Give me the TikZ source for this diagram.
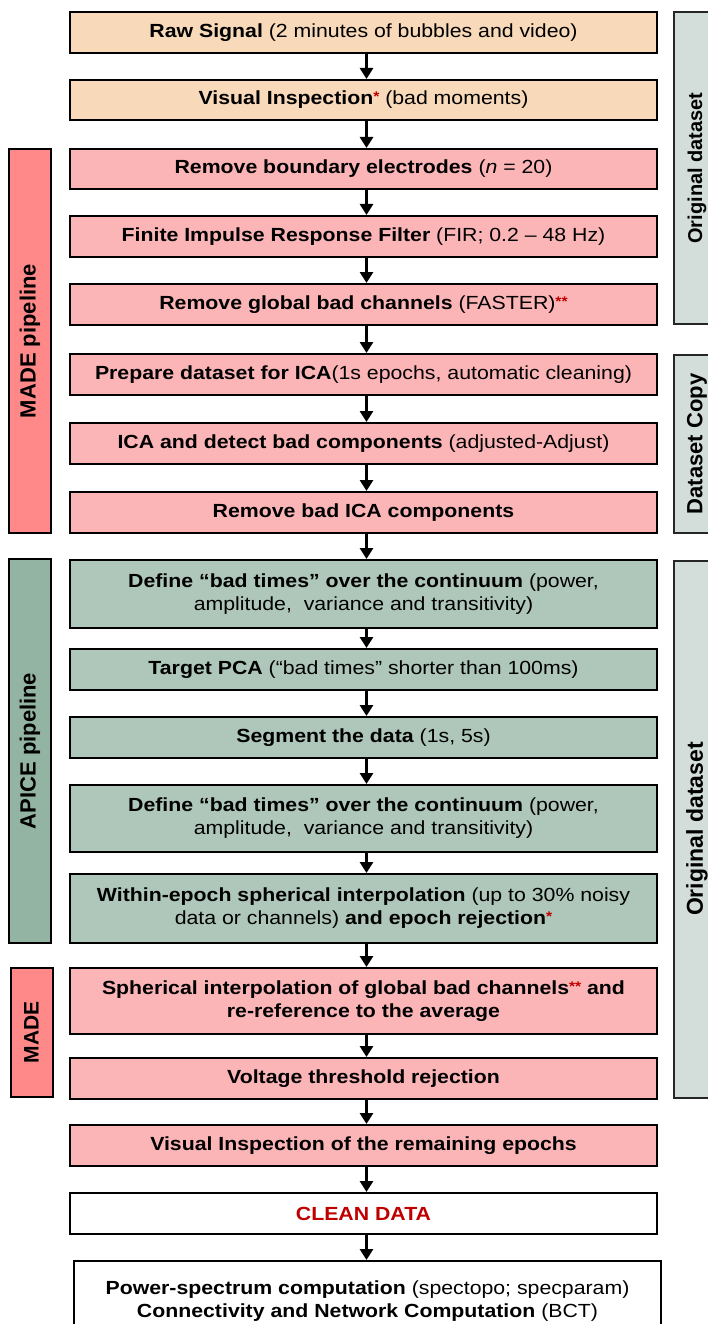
\documentclass[tikz,border=0pt]{standalone}
\usepackage{fontspec}
\setmainfont{Liberation Sans}
\newfontfamily\boxfont[FakeStretch=1.12]{Liberation Sans}
\usetikzlibrary{arrows.meta}

\definecolor{peach}{RGB}{248,217,185}
\definecolor{pinkbox}{RGB}{251,181,183}
\definecolor{madebar}{RGB}{255,137,137}
\definecolor{greenbox}{RGB}{174,199,186}
\definecolor{apicebar}{RGB}{147,180,162}
\definecolor{copybar}{RGB}{211,221,218}
\definecolor{starred}{RGB}{192,0,0}

\newcommand{\redstar}[1]{\raisebox{3pt}{\textcolor{starred}{\fontsize{14}{14}\selectfont\bfseries #1}}}

\begin{document}
\begin{tikzpicture}[x=1pt,y=-1pt,
  stage/.style={draw=black, line width=2pt, minimum width=587pt, inner sep=0pt,
    align=center, text=black, font=\boxfont\fontsize{19}{23}\selectfont},
  sidebar/.style={draw=black, line width=2pt, rotate=90, inner sep=0pt,
    minimum height=42pt, font=\fontsize{22}{22}\selectfont\bfseries},
  copybox/.style={draw=black!85, line width=2pt, rotate=90, inner sep=0pt,
    minimum height=46pt, fill=copybar, font=\fontsize{21}{21}\selectfont\bfseries},
  flow/.style={line width=3.5pt, -{Triangle[width=13pt,length=11pt]}}]

\useasboundingbox (0,0) rectangle (708,1324);

% side bars: pipelines on the left
\node[sidebar, fill=madebar, minimum width=384pt] (madeA) at (30,341) {MADE pipeline};
\node[sidebar, fill=apicebar, minimum width=384pt] (apice) at (30,751) {APICE pipeline};
\node[sidebar, fill=madebar, minimum width=129pt, font=\fontsize{21}{21}\selectfont\bfseries]
  (madeB) at (31.5,1032.5) {MADE};

% side bars: dataset on the right
\node[copybox, minimum width=312pt, font=\fontsize{20}{20}\selectfont\bfseries]
  (origA) at (697,168) {Original dataset};
\node[copybox, minimum width=178pt, font=\fontsize{22}{22}\selectfont\bfseries]
  (dcopy) at (697,444) {Dataset Copy};
\node[copybox, minimum width=537pt, font=\fontsize{23}{23}\selectfont\bfseries]
  (origB) at (697,829) {Original dataset};

% processing stages
\node[stage, fill=peach, minimum height=41pt] (s1) at (363.5,32.5)
  {\textbf{Raw Signal} (2 minutes of bubbles and video)};
\node[stage, fill=peach, minimum height=40pt] (s2) at (363.5,100)
  {\textbf{Visual Inspection}\redstar{*} (bad moments)};
\node[stage, fill=pinkbox, minimum height=40pt] (s3) at (363.5,169)
  {\textbf{Remove boundary electrodes} (\textit{n} = 20)};
\node[stage, fill=pinkbox, minimum height=41pt] (s4) at (363.5,236.5)
  {\textbf{Finite Impulse Response Filter} (FIR; 0.2 – 48 Hz)};
\node[stage, fill=pinkbox, minimum height=41pt] (s5) at (363.5,304.5)
  {\textbf{Remove global bad channels} (FASTER)\redstar{**}};
\node[stage, fill=pinkbox, minimum height=41pt] (s6) at (363.5,374.5)
  {\textbf{Prepare dataset for ICA}(1s epochs, automatic cleaning)};
\node[stage, fill=pinkbox, minimum height=41pt] (s7) at (363.5,443.5)
  {\textbf{ICA and detect bad components} (adjusted-Adjust)};
\node[stage, fill=pinkbox, minimum height=41pt] (s8) at (363.5,512.5)
  {\textbf{Remove bad ICA components}};
\node[stage, fill=greenbox, minimum height=68pt] (s9) at (363.5,594)
  {\textbf{Define “bad times” over the continuum} (power,\\amplitude,\ \ variance and transitivity)};
\node[stage, fill=greenbox, minimum height=41pt] (s10) at (363.5,669.5)
  {\textbf{Target PCA} (“bad times” shorter than 100ms)};
\node[stage, fill=greenbox, minimum height=41pt] (s11) at (363.5,737.5)
  {\textbf{Segment the data} (1s, 5s)};
\node[stage, fill=greenbox, minimum height=67pt] (s12) at (363.5,818.5)
  {\textbf{Define “bad times” over the continuum} (power,\\amplitude,\ \ variance and transitivity)};
\node[stage, fill=greenbox, minimum height=69pt] (s13) at (363.5,908.5)
  {\textbf{Within-epoch spherical interpolation} (up to 30\% noisy\\data or channels) \textbf{and epoch rejection}\redstar{*}};
\node[stage, fill=pinkbox, minimum height=66pt] (s14) at (363.5,1001)
  {\textbf{Spherical interpolation of global bad channels}\redstar{**} \textbf{and}\\\textbf{re-reference to the average}};
\node[stage, fill=pinkbox, minimum height=41pt] (s15) at (363.5,1078.5)
  {\textbf{Voltage threshold rejection}};
\node[stage, fill=pinkbox, minimum height=41pt] (s16) at (363.5,1145.5)
  {\textbf{Visual Inspection of the remaining epochs}};
\node[stage, fill=white, minimum height=41pt] (s17) at (363.5,1213.5)
  {\textcolor{starred}{\textbf{CLEAN DATA}}};
\node[stage, fill=white, minimum height=80pt, anchor=north] (s18) at (367.5,1260)
  {\textbf{Power-spectrum computation} (spectopo; specparam)\\\textbf{Connectivity and Network Computation} (BCT)};

% flow arrows
\foreach \a/\b in {s1/s2,s2/s3,s3/s4,s4/s5,s5/s6,s6/s7,s7/s8,s8/s9,s9/s10,
                   s10/s11,s11/s12,s12/s13,s13/s14,s14/s15,s15/s16,s16/s17,s17/s18}
  \draw[flow] ([xshift=3pt]\a.south) -- ([xshift=3pt]\a.south |- \b.north);

\end{tikzpicture}
\end{document}
